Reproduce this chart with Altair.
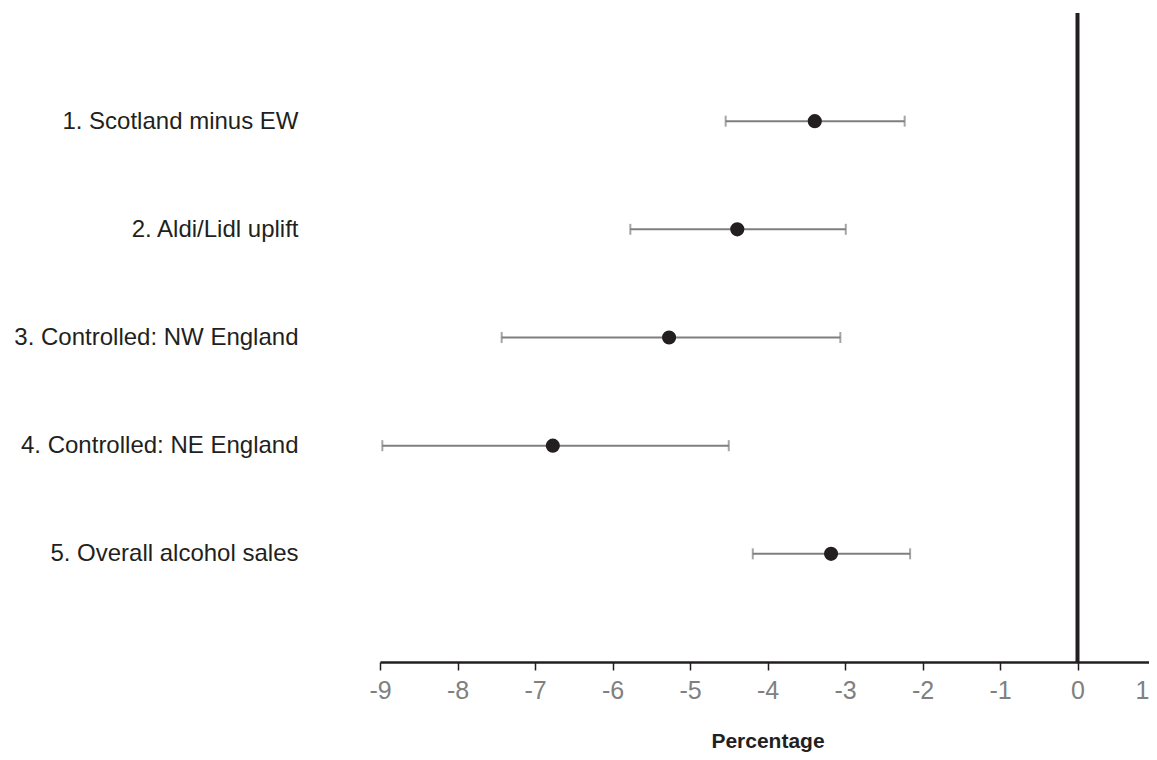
import altair as alt
import pandas as pd

labels = ["1. Scotland minus EW", "2. Aldi/Lidl uplift", "3. Controlled: NW England",
          "4. Controlled: NE England", "5. Overall alcohol sales"]
positions = [1, 2, 3, 4, 5]
estimates = [-3.39, -4.39, -5.27, -6.77, -3.18]
lower = [-4.54, -5.77, -7.43, -8.97, -4.19]
upper = [-2.23, -2.99, -3.06, -4.50, -2.16]
x_ticks = [-9, -8, -7, -6, -5, -4, -3, -2, -1, 0, 1]

df = pd.DataFrame({"label": labels, "pos": positions, "est": estimates,
                   "lo": lower, "hi": upper})

label_map = "{" + ",".join(f"'{p}': '{l}'" for p, l in zip(positions, labels)) + "}"

xscale = alt.Scale(domain=[-9, 1], nice=False, zero=False)
yscale = alt.Scale(domain=[0, 6], reverse=True, nice=False, zero=False)

xaxis = alt.Axis(values=x_ticks, title="Percentage", grid=False,
                 labelExpr="'' + datum.value", labelFlush=False, labelOverlap=False,
                 labelAlign={"condition": {"test": "datum.value == 1", "value": "right"},
                             "value": "center"},
                 labelOffset={"condition": {"test": "datum.value == 1", "value": -6},
                              "value": 0},
                 domainColor="#231f20", domainWidth=2.5, tickColor="#231f20",
                 tickWidth=1.5, tickSize=8, labelColor="#808080",
                 labelFont="Liberation Sans", labelFontSize=25, labelPadding=8,
                 titleFont="Liberation Sans", titleFontSize=21, titleFontWeight="bold",
                 titleColor="#231f20", titlePadding=27)
yaxis = alt.Axis(values=positions, labelExpr=f"{label_map}[datum.value]",
                 title=None, grid=False, domain=False, ticks=False,
                 labelColor="#231f20", labelFont="Liberation Sans", labelLimit=400,
                 labelFontSize=24, labelPadding=82)

base = alt.Chart(df)

bars = base.mark_rule(color="#7f7f7f", strokeWidth=2).encode(
    x=alt.X("lo:Q", scale=xscale, axis=xaxis),
    x2="hi:Q",
    y=alt.Y("pos:Q", scale=yscale, axis=yaxis),
)
cap_lo = base.mark_tick(color="#7f7f7f", thickness=2, size=11, orient="vertical").encode(
    x=alt.X("lo:Q", scale=xscale), y=alt.Y("pos:Q", scale=yscale))
cap_hi = base.mark_tick(color="#7f7f7f", thickness=2, size=11, orient="vertical").encode(
    x=alt.X("hi:Q", scale=xscale), y=alt.Y("pos:Q", scale=yscale))
points = base.mark_circle(color="#231f20", opacity=1, size=200).encode(
    x=alt.X("est:Q", scale=xscale), y=alt.Y("pos:Q", scale=yscale))

zero = alt.Chart(pd.DataFrame({"z": [0]})).mark_rule(color="#231f20", strokeWidth=4).encode(
    x=alt.X("z:Q", scale=xscale))

chart = alt.layer(bars, cap_lo, cap_hi, zero, points).properties(
    width=775, height=649,
    background="white",
    autosize=alt.AutoSizeParams(type="none"),
    padding={"left": 372, "top": 5, "right": -6, "bottom": 90},
).configure_view(strokeWidth=0).configure_axisY(
    domain=False, grid=False, ticks=False
).configure_axisX(grid=False)

chart.save("out.html", embed_options={"renderer": "svg", "actions": False})
